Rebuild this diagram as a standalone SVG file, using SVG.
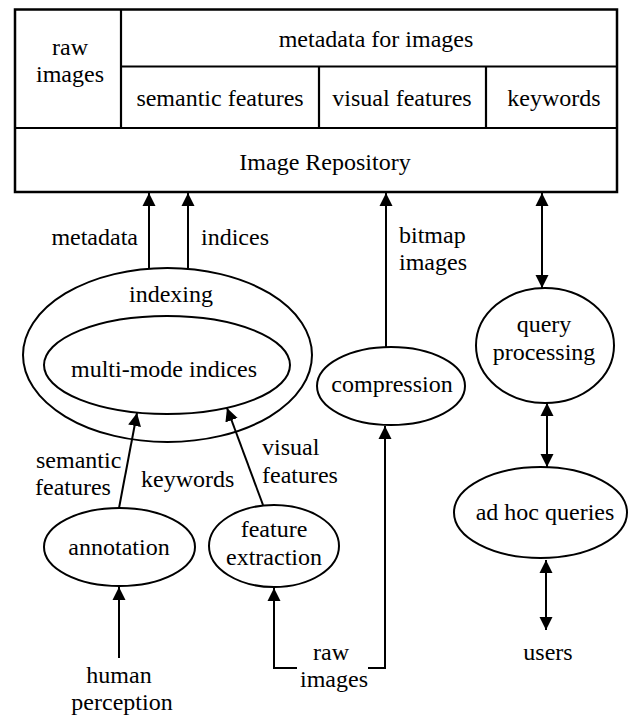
<svg xmlns="http://www.w3.org/2000/svg" width="634" height="717" viewBox="0 0 634 717">
  <style>
    #diagram text { font-family: "Liberation Serif", "Times New Roman", serif; font-size: 24px; fill: #000; }
    #diagram .c { text-anchor: middle; }
    #diagram .e { text-anchor: end; }
    .frame { fill: #fff; stroke: #000; stroke-width: 2.5; }
    .rule { stroke: #000; stroke-width: 2.2; fill: none; }
    .node { fill: #fff; stroke: #000; stroke-width: 2; }
    .wire { fill: none; stroke: #000; stroke-width: 2; }
  </style>
  <defs>
    <marker id="tip" markerUnits="userSpaceOnUse" markerWidth="14" markerHeight="14" refX="13" refY="6.5" orient="auto-start-reverse" viewBox="0 0 14 13">
      <path d="M0,0 L13,6.5 L0,13 Z" fill="#000"/>
    </marker>
  </defs>
  <rect width="634" height="717" fill="#fff"/>

  <g id="diagram">
  <!-- repository table -->
  <g id="repository">
    <rect class="frame" x="15" y="9.5" width="602" height="182.5"/>
    <path class="rule" d="M121,9.5 V128 M121,66.5 H617 M15,128 H617 M319,66.5 V128 M486,66.5 V128"/>
    <text class="c" x="70" y="55">raw</text>
    <text class="c" x="70" y="82">images</text>
    <text class="c" x="376" y="47">metadata for images</text>
    <text class="c" x="220" y="106">semantic features</text>
    <text class="c" x="402" y="106">visual features</text>
    <text class="c" x="554" y="106">keywords</text>
    <text class="c" x="325" y="170">Image Repository</text>
  </g>

  <g id="indexing">
    <ellipse class="node" cx="167.5" cy="355" rx="144.5" ry="87"/>
    <text class="c" x="171" y="302">indexing</text>
  </g>
  <g id="multi-mode-indices">
    <ellipse class="node" cx="167" cy="365" rx="123" ry="49"/>
    <text class="c" x="164" y="377">multi-mode indices</text>
  </g>
  <g id="compression">
    <ellipse class="node" cx="391" cy="386" rx="74" ry="39"/>
    <text class="c" x="392" y="392">compression</text>
  </g>
  <g id="query-processing">
    <ellipse class="node" cx="545" cy="345.5" rx="69" ry="57.5"/>
    <text class="c" x="544" y="332">query</text>
    <text class="c" x="544" y="360">processing</text>
  </g>
  <g id="ad-hoc-queries">
    <ellipse class="node" cx="540.5" cy="512.5" rx="86.5" ry="45.5"/>
    <text class="c" x="545" y="520">ad hoc queries</text>
  </g>
  <g id="annotation">
    <ellipse class="node" cx="119.5" cy="547" rx="75.5" ry="39"/>
    <text class="c" x="119" y="555">annotation</text>
  </g>
  <g id="feature-extraction">
    <ellipse class="node" cx="274" cy="546" rx="65" ry="41"/>
    <text class="c" x="274" y="537">feature</text>
    <text class="c" x="274" y="565">extraction</text>
  </g>
  <g id="users">
    <text class="c" x="548" y="660">users</text>
  </g>
  <g id="human-perception">
    <text class="c" x="119" y="683">human</text>
    <text class="c" x="122" y="710">perception</text>
  </g>
  <g id="raw-images-source">
    <text class="c" x="331" y="660">raw</text>
    <text class="c" x="334" y="687">images</text>
  </g>

  <!-- connectors -->
  <g id="connectors">
    <line class="wire" x1="149" y1="268" x2="149" y2="193" marker-end="url(#tip)"/>
    <line class="wire" x1="188" y1="268" x2="188" y2="193" marker-end="url(#tip)"/>
    <line class="wire" x1="386" y1="347" x2="386" y2="193" marker-end="url(#tip)"/>
    <line class="wire" x1="542" y1="193" x2="542" y2="288" marker-start="url(#tip)" marker-end="url(#tip)"/>
    <line class="wire" x1="547" y1="403" x2="547" y2="467" marker-start="url(#tip)" marker-end="url(#tip)"/>
    <line class="wire" x1="546" y1="560" x2="546" y2="630" marker-start="url(#tip)" marker-end="url(#tip)"/>
    <line class="wire" x1="119" y1="508" x2="137" y2="413" marker-end="url(#tip)"/>
    <line class="wire" x1="263" y1="505" x2="227" y2="408" marker-end="url(#tip)"/>
    <line class="wire" x1="119" y1="658" x2="119" y2="587" marker-end="url(#tip)"/>
    <path class="wire" d="M297,668 H274 V588" marker-end="url(#tip)"/>
    <path class="wire" d="M368,668 H385 V426" marker-end="url(#tip)"/>
    <text class="e" x="138" y="245">metadata</text>
    <text x="201" y="245">indices</text>
    <text x="399" y="243">bitmap</text>
    <text x="399" y="270">images</text>
    <text x="36" y="468">semantic</text>
    <text x="35" y="495">features</text>
    <text x="141" y="487">keywords</text>
    <text x="262" y="455">visual</text>
    <text x="262" y="483">features</text>
  </g>
  </g>
</svg>
